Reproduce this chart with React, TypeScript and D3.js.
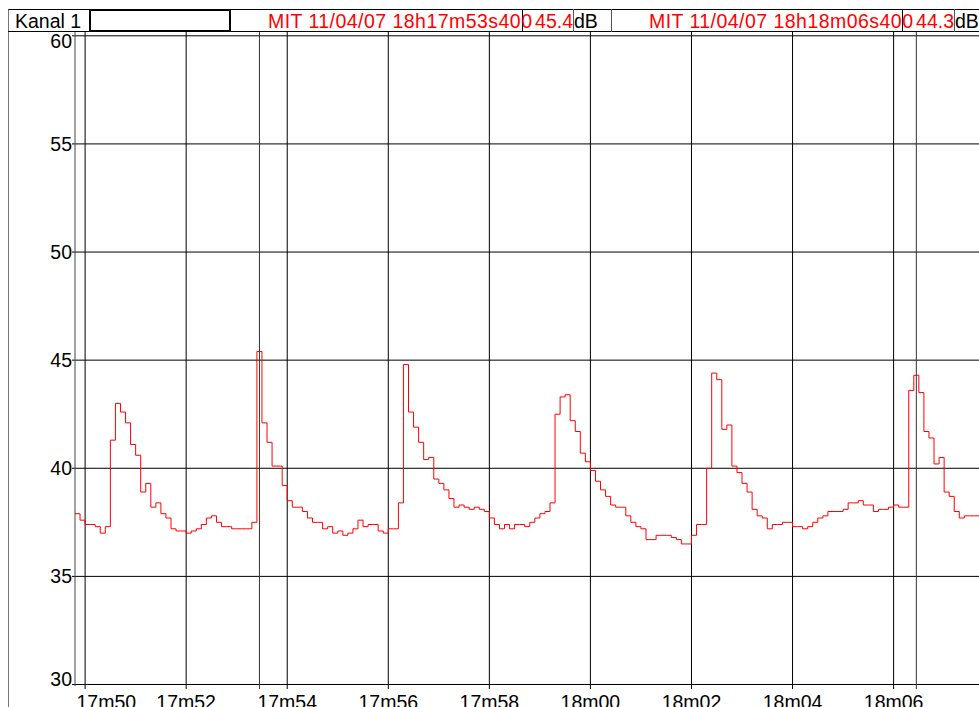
import React from 'react'
import * as d3 from 'd3'

// seconds after 18h17m00, one Leq sample every 100 ms
const startTime = 49.8
const samplePeriod = 0.1

const levels = [
  37.9, 37.6, 37.4, 37.4, 37.3, 37.0, 37.3, 41.3, 43.0, 42.6,
  42.1, 41.1, 40.6, 38.9, 39.3, 38.2, 38.4, 37.9, 37.7, 37.2,
  37.1, 37.1, 37.0, 37.1, 37.2, 37.4, 37.7, 37.8, 37.5, 37.3,
  37.3, 37.2, 37.2, 37.2, 37.2, 37.5, 45.4, 42.1, 41.2, 40.1,
  40.1, 39.2, 38.5, 38.2, 38.2, 38.0, 37.7, 37.5, 37.5, 37.2,
  37.3, 37.0, 37.1, 36.9, 37.0, 37.2, 37.6, 37.3, 37.4, 37.4,
  37.1, 37.0, 37.2, 37.2, 38.4, 44.8, 42.6, 41.9, 41.2, 40.4,
  40.5, 39.5, 39.3, 39.0, 38.6, 38.2, 38.3, 38.2, 38.1, 38.2,
  38.1, 38.0, 37.7, 37.4, 37.2, 37.4, 37.2, 37.4, 37.4, 37.3,
  37.5, 37.7, 37.9, 38.0, 38.4, 42.5, 43.3, 43.4, 42.2, 41.7,
  40.7, 40.3, 39.9, 39.4, 39.0, 38.7, 38.3, 38.2, 38.2, 37.8,
  37.5, 37.3, 37.2, 36.7, 36.7, 36.9, 36.9, 36.9, 36.8, 36.7,
  36.5, 36.5, 36.9, 37.4, 37.4, 40.0, 44.4, 44.1, 41.8, 42.0,
  40.1, 39.8, 39.3, 38.9, 38.1, 37.8, 37.7, 37.2, 37.4, 37.4,
  37.5, 37.5, 37.3, 37.3, 37.2, 37.3, 37.5, 37.7, 37.8, 38.0,
  38.0, 38.0, 38.1, 38.4, 38.4, 38.5, 38.3, 38.3, 38.0, 38.1,
  38.1, 38.2, 38.3, 38.2, 38.2, 43.6, 44.3, 43.5, 41.7, 41.4,
  40.2, 40.5, 38.9, 38.7, 38.0, 37.7, 37.8, 37.8, 37.8,
]

const yTicks = [30, 35, 40, 45, 50, 55, 60]
const xTickSeconds = [50, 52, 54, 56, 58, 60, 62, 64, 66]
const xTickLabels = ['17m50', '17m52', '17m54', '17m56', '17m58', '18m00', '18m02', '18m04', '18m06']

const channelName = 'Kanal 1'
const unit = 'dB'
const cursorSeconds = [53.4, 66.4]
const cursorLabels = ['MIT 11/04/07 18h17m53s400', 'MIT 11/04/07 18h18m06s400']
const cursorValues = ['45.4', '44.3']

const App = () => {
  const svgRef = React.useRef<SVGSVGElement>(null)
  const width = 979
  const height = 707

  React.useEffect(() => {
    const svg = d3.select(svgRef.current)
    svg.selectAll('*').remove()

    const left = 75
    const right = 979
    const plotTop = 32
    const font = '"Liberation Sans", Arial, sans-serif'

    const x = d3.scaleLinear().domain([startTime, 67.69]).range([left, right])
    const y = d3.scaleLinear().domain([30, 60]).range([684.5, 35.8])

    svg.append('rect').attr('width', width).attr('height', height).attr('fill', '#fff')

    // left frame
    svg.append('line')
      .attr('x1', 8.5).attr('x2', 8.5).attr('y1', 9).attr('y2', height)
      .attr('stroke', '#777')

    // grid
    const grid = svg.append('g').attr('stroke', '#000').attr('stroke-width', 1)
    grid.selectAll('line.h')
      .data(yTicks)
      .join('line')
      .attr('class', 'h')
      .attr('x1', 72).attr('x2', right)
      .attr('y1', (d) => y(d)).attr('y2', (d) => y(d))
    grid.selectAll('line.v')
      .data(xTickSeconds)
      .join('line')
      .attr('class', 'v')
      .attr('x1', (d) => x(d)).attr('x2', (d) => x(d))
      .attr('y1', plotTop).attr('y2', 689)
    grid.append('line')
      .attr('x1', left).attr('x2', left).attr('y1', plotTop).attr('y2', 686)
      .attr('stroke', '#444')

    // cursors, drawn at the centre of the selected sample
    svg.append('g')
      .selectAll('line')
      .data(cursorSeconds)
      .join('line')
      .attr('x1', (d) => x(d + samplePeriod / 2)).attr('x2', (d) => x(d + samplePeriod / 2))
      .attr('y1', plotTop).attr('y2', 689)
      .attr('stroke', '#333')

    // y labels
    svg.append('g')
      .style('font', `19.5px ${font}`)
      .attr('text-anchor', 'end')
      .selectAll('text')
      .data(yTicks)
      .join('text')
      .attr('x', 72)
      .attr('y', (d) => Math.max(41.3, Math.min(679.5, y(d))))
      .attr('dy', '0.35em')
      .text((d) => d)

    // x labels
    const xl = svg.append('g')
      .style('font', `19.5px ${font}`)
      .attr('text-anchor', 'middle')
      .selectAll('text')
      .data(xTickSeconds)
      .join('text')
      .attr('x', (d) => x(d))
      .attr('y', 709)
      .text((d, i) => xTickLabels[i])
    xl.each(function (d) {
      const w = (this as SVGTextElement).getComputedTextLength()
      if (x(d) - w / 2 < left + 1.5) d3.select(this).attr('x', left + 1.5 + w / 2)
    })

    // level trace
    svg.append('clipPath').attr('id', 'plot-clip')
      .append('rect')
      .attr('x', left).attr('y', plotTop).attr('width', right - left).attr('height', 684.5 - plotTop)

    const points: [number, number][] = levels.map((v, i) => [startTime + i * samplePeriod, v])
    points.push([startTime + levels.length * samplePeriod, levels[levels.length - 1]])
    const line = d3.line<[number, number]>()
      .x((d) => x(d[0]))
      .y((d) => y(d[1]))
      .curve(d3.curveStepAfter)
    svg.append('path')
      .attr('clip-path', 'url(#plot-clip)')
      .attr('d', line(points))
      .attr('fill', 'none')
      .attr('stroke', '#ff0000')
      .attr('stroke-width', 1)

    // header strip
    const head = svg.append('g')
    head.append('rect').attr('x', 0).attr('y', 0).attr('width', width).attr('height', 9).attr('fill', '#fff')
    head.append('line').attr('x1', 8.5).attr('x2', width).attr('y1', 9.5).attr('y2', 9.5).attr('stroke', '#000')
    head.append('line').attr('x1', 8).attr('x2', width).attr('y1', 31.5).attr('y2', 31.5).attr('stroke', '#000')
    const separators = [522, 573, 611, 902, 954]
    head.selectAll('line.sep')
      .data(separators)
      .join('line')
      .attr('class', 'sep')
      .attr('x1', (d) => d + 0.5).attr('x2', (d) => d + 0.5)
      .attr('y1', 9).attr('y2', 32)
      .attr('stroke', (d, i) => (i % 3 === 0 ? '#000' : '#555'))
    head.append('rect')
      .attr('x', 90).attr('y', 10).attr('width', 140).attr('height', 21)
      .attr('fill', 'none').attr('stroke', '#000').attr('stroke-width', 2)

    const headText = head.append('g').style('font', `19.5px ${font}`)
    headText.append('text').attr('x', 15).attr('y', 28).text(channelName)
    const dateLeft = [268, 649]
    const valueRight = [573, 954]
    cursorLabels.forEach((label, i) => {
      headText.append('text')
        .attr('x', dateLeft[i]).attr('y', 28)
        .attr('textLength', 264).attr('lengthAdjust', 'spacing')
        .attr('fill', '#ff0000')
        .text(label)
      headText.append('text')
        .attr('x', valueRight[i]).attr('y', 28)
        .attr('text-anchor', 'end').attr('fill', '#ff0000')
        .text(cursorValues[i])
      headText.append('text')
        .attr('x', valueRight[i] + 1).attr('y', 28)
        .text(unit)
    })
  }, [])

  return (
    <svg
      ref={svgRef}
      width={width}
      height={height}
      style={{ position: 'absolute', left: 0, top: 0, display: 'block' }}
    />
  )
}

export default App
